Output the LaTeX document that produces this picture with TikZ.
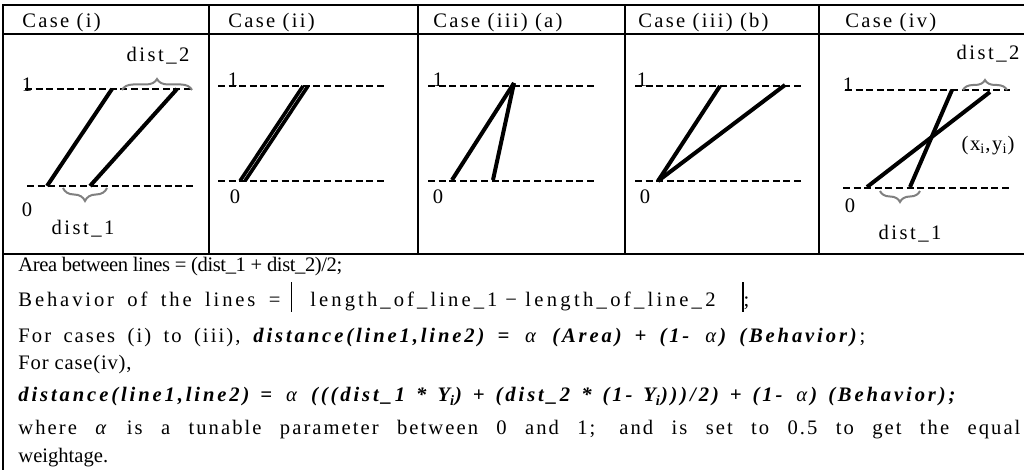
\documentclass[tikz,border=0pt]{standalone}
\usepackage{fontspec}
\setmainfont{Liberation Serif}
\usetikzlibrary{decorations.pathreplacing}
\definecolor{InkDark}{HTML}{000000}
\definecolor{BraceGrey}{HTML}{808080}
\newcommand{\bi}[1]{\textbf{\textit{#1}}}
\newcommand{\tallbar}{\rule[-2.5pt]{0.6pt}{15pt}}
\newcommand{\alf}{\textit{α}}
\newcommand{\ls}[2]{{\addfontfeatures{LetterSpace=#1}#2}}
\newcommand{\spreadto}[3][8]{\ls{#1}{\makebox[#2][s]{#3}}}

\begin{document}
\begin{tikzpicture}[x=0.5pt, y=-0.5pt,
  every node/.style={font=\fontsize{10.3}{12}\selectfont, inner sep=0pt},
  gridline/.style={line width=0.75pt, draw=InkDark},
  levelline/.style={line width=1pt, draw=InkDark, dash pattern=on 3.5pt off 1.8pt},
  seg/.style={line width=2pt, draw=InkDark},
  gbrace/.style={draw=BraceGrey, line width=1pt, decorate, decoration={brace, amplitude=#1}},
  gbrace/.default=5pt,
  lab/.style={anchor=base},
  txt/.style={anchor=base west},
]
\useasboundingbox (0,0) rectangle (1024,470);
\def\ytop{5} \def\yhead{34} \def\ypanel{254}
% ---------------- table rules
\draw[gridline] (3,470) -- (3,\ytop) -- (1024,\ytop);
\draw[gridline] (3,\yhead) -- (1024,\yhead);
\draw[gridline] (3,\ypanel) -- (1024,\ypanel);
\foreach \xc in {209,418,625,819}
  \draw[gridline] (\xc,\ytop) -- (\xc,\ypanel);
% ---------------- header row
\node[txt] (h1) at (22,28) {\ls{11}{Case (i)}};
\node[txt] (h2) at (228,28) {\ls{11}{Case (ii)}};
\node[txt] (h3) at (433,28) {\ls{11}{Case (iii) (a)}};
\node[txt] (h4) at (638,28) {\ls{11}{Case (iii) (b)}};
\node[txt] (h5) at (845,28) {\ls{11}{Case (iv)}};
% ---------------- case (i)
\draw[levelline] (25,89) -- (193,89);
\draw[levelline] (27,186) -- (195,186);
\node[lab] (oneA) at (27,92) {1};
\node[lab] (zeroA) at (27,217) {0};
\draw[seg] (47,186) -- (112,89);
\draw[seg] (90,186) -- (177,89);
\draw[gbrace=5.5pt] (122,90) -- (192,90);
\draw[gbrace=6.5pt] (107,188) -- (63,188);
\node[lab] (dtwoA) at (158,62) {\ls{12}{dist\_2}};
\node[lab] (doneA) at (83,235) {\ls{12}{dist\_1}};
% ---------------- case (ii)
\draw[levelline] (218,86) -- (387,86);
\draw[levelline] (218,181) -- (387,181);
\node[lab] (oneB) at (233,87) {1};
\node[lab] (zeroB) at (235,204) {0};
\draw[seg, line width=1.8pt] (240,181) -- (303,86);
\draw[seg, line width=1.8pt] (245,181) -- (308,86);
% ---------------- case (iii) (a)
\draw[levelline] (428,86) -- (597,86);
\draw[levelline] (428,181) -- (597,181);
\node[lab] (oneC) at (438,87) {1};
\node[lab] (zeroC) at (438,204) {0};
\draw[seg] (452,180) -- (514,83);
\draw[seg] (493,180) -- (514,83);
% ---------------- case (iii) (b)
\draw[levelline] (635,86) -- (803,86);
\draw[levelline] (635,181) -- (803,181);
\node[lab] (oneD) at (642,87) {1};
\node[lab] (zeroD) at (645,204) {0};
\draw[seg] (658,181) -- (720,86);
\draw[seg] (658,181) -- (785,85);
% ---------------- case (iv)
\draw[levelline] (845,90) -- (1010,90);
\draw[levelline] (843,188) -- (1010,188);
\node[lab] (oneE) at (848,92) {1};
\node[lab] (zeroE) at (850,213) {0};
\draw[seg] (867,187) -- (990,92);
\draw[seg] (910,187) -- (952,90);
\draw[gbrace=5pt] (963,90) -- (1007,90);
\draw[gbrace=5.5pt] (920,191) -- (880,191);
\node[lab] (dtwoE) at (988,60) {\ls{12}{dist\_2}};
\node[lab] (doneE) at (910,240) {\ls{12}{dist\_1}};
\node (xy) at (988,146) {\ls{8}{(x\textsubscript{i},y\textsubscript{i})}};
% ---------------- text below the table
\node[txt] (area) at (18,272) {\ls{-2}{Area between lines = (dist\_1 + dist\_2)/2;}};
\node[txt] (behav) at (18,307) {\spreadto[14]{131pt}{Behavior of the lines =}};
\node[txt] (barL) at (290,307) {\tallbar};
\node[txt] (lenA) at (310,307) {\ls{15}{length\_of\_line\_1}};
\node[txt] (minus) at (505,307) {−};
\node[txt] (lenB) at (525,307) {\ls{16}{length\_of\_line\_2}};
\node[txt] (barR) at (742,307) {\tallbar;};
\node[txt] (cases) at (18,343) {\spreadto[10]{111pt}{For cases (i) to (iii),}};
\node[txt] (casesF) at (253,343) {\spreadto[14]{306pt}{\bi{distance(line1,line2) =} \alf\ \bi{(Area) + (1- }\alf\bi{) (Behavior)};}};
\node[txt] (caseiv) at (18,370) {\ls{4}{For case(iv),}};
\node[txt] (formula) at (18,402) {\spreadto[14]{470pt}{\bi{distance(line1,line2) =} \alf\ \bi{(((dist\_1 * Y\textsubscript{i}) + (dist\_2 * (1- Y\textsubscript{i})))/2) + (1- }\alf\bi{) (Behavior);}}};
\node[txt] (where) at (18,435) {\spreadto[10]{501pt}{where \alf\ is a tunable parameter between 0 and 1; and is set to 0.5 to get the equal}};
\node[txt] (weight) at (18,463) {weightage.};
\end{tikzpicture}
\end{document}
